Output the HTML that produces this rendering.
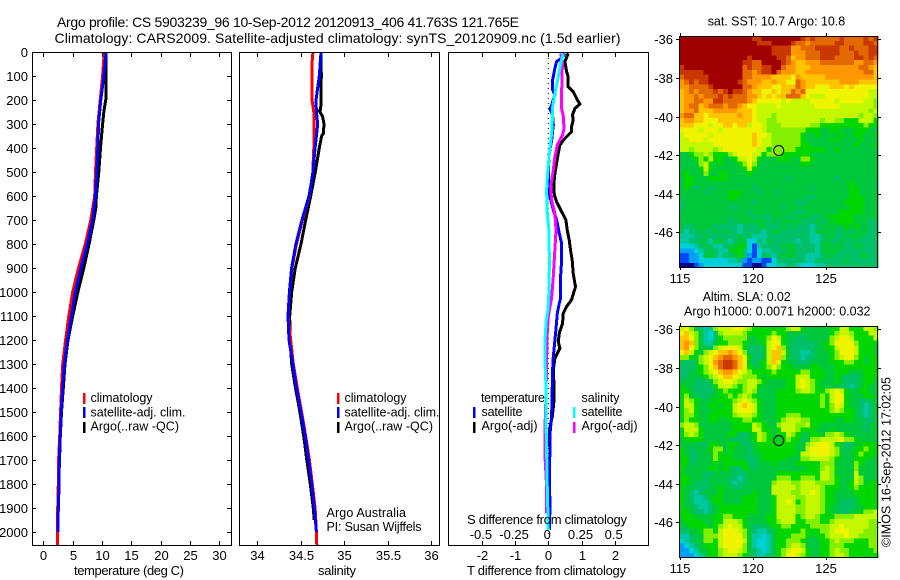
<!DOCTYPE html>
<html>
<head>
<meta charset="utf-8">
<style>
html,body{margin:0;padding:0;background:#fff;}
svg{display:block;}
text{font-family:"Liberation Sans",sans-serif;font-size:13px;fill:#000;}
</style>
</head>
<body>
<svg id="fig" xmlns="http://www.w3.org/2000/svg" width="900" height="580" viewBox="0 0 900 580">
<text x="57" y="27" style="font-size:14px" textLength="462">Argo profile: CS 5903239_96 10-Sep-2012 20120913_406 41.763S 121.765E</text>
<text x="54.5" y="43" style="font-size:14px" textLength="566">Climatology: CARS2009. Satellite-adjusted climatology: synTS_20120909.nc (1.5d earlier)</text>
<g id="marks"></g>
<rect x="32.5" y="52.5" width="199" height="493" fill="none" stroke="#000"/>
<rect x="239.5" y="52.5" width="200" height="493" fill="none" stroke="#000"/>
<rect x="448.5" y="52.5" width="200" height="493" fill="none" stroke="#000"/>
<rect x="679.5" y="36.5" width="198" height="231" fill="none" stroke="#000"/>
<rect x="679.5" y="326.5" width="198" height="231" fill="none" stroke="#000"/>
<g id="ticks"></g>

<text x="74" y="575" textLength="110">temperature (deg C)</text>
<text x="318" y="575" textLength="38">salinity</text>
<text x="467" y="575" textLength="159">T difference from climatology</text>
<text x="467" y="524" textLength="160">S difference from climatology</text>

<g>
<rect x="83" y="393" width="2.5" height="11" fill="#f00"/>
<rect x="83" y="407" width="2.5" height="11" fill="#00f"/>
<rect x="83" y="422" width="2.5" height="11" fill="#000"/>
<text x="90.5" y="402" style="font-size:12.5px" textLength="62">climatology</text>
<text x="90.5" y="416.5" style="font-size:12.5px" textLength="95">satellite-adj. clim.</text>
<text x="90.5" y="430.5" style="font-size:12.5px" textLength="88.5">Argo(..raw -QC)</text>
</g>
<g>
<rect x="337" y="393" width="2.5" height="11" fill="#f00"/>
<rect x="337" y="407" width="2.5" height="11" fill="#00f"/>
<rect x="337" y="422" width="2.5" height="11" fill="#000"/>
<text x="344.5" y="402" style="font-size:12.5px" textLength="62">climatology</text>
<text x="344.5" y="416.5" style="font-size:12.5px" textLength="95">satellite-adj. clim.</text>
<text x="344.5" y="430.5" style="font-size:12.5px" textLength="88.5">Argo(..raw -QC)</text>
</g>
<text x="326.5" y="517" style="font-size:12.5px" textLength="79.5">Argo Australia</text>
<text x="326.5" y="531" style="font-size:12.5px" textLength="95">PI: Susan Wijffels</text>

<g>
<rect x="473" y="407" width="2.5" height="11" fill="#00f"/>
<rect x="473" y="422" width="2.5" height="11" fill="#000"/>
<rect x="573" y="407" width="2.5" height="11" fill="#0ff"/>
<rect x="573" y="422" width="2.5" height="11" fill="#f0f"/>
<text x="481" y="402" style="font-size:12.5px" textLength="64">temperature</text>
<text x="481.5" y="416" style="font-size:12.5px" textLength="41">satellite</text>
<text x="481.5" y="430" style="font-size:12.5px" textLength="56">Argo(-adj)</text>
<text x="581.5" y="402" style="font-size:12.5px" textLength="38">salinity</text>
<text x="581.5" y="416" style="font-size:12.5px" textLength="41">satellite</text>
<text x="581.5" y="430" style="font-size:12.5px" textLength="56">Argo(-adj)</text>
</g>

<text x="707.7" y="25.5" style="font-size:12.5px" textLength="137.5">sat. SST: 10.7 Argo: 10.8</text>
<text x="702.7" y="301" style="font-size:12.5px" textLength="88">Altim. SLA: 0.02</text>
<text x="684" y="315.5" style="font-size:12.5px" textLength="186.5">Argo h1000: 0.0071 h2000: 0.032</text>
<text transform="translate(890.5,547) rotate(-90)" style="font-size:12.5px" textLength="170">©IMOS 16-Sep-2012 17:02:05</text>
</svg>
<script>
// ---------- depth axis ----------
const depthTicks = [0,100,200,300,400,500,600,700,800,900,1000,1100,1200,1300,1400,1500,1600,1700,1800,1900,2000];

// ---------- temperature panel ----------
const tempTicks = [0,5,10,15,20,25,30];
const tempClimDepth = [0,100,200,300,400,500,600,700,800,900,1000,1100,1200,1300,1400,1500,1600,1700,1800,1900,2000,2056];
const tempClim = [10.4,10.1,9.7,9.3,9.1,8.9,8.75,8.1,7.15,6.0,5.0,4.35,3.8,3.3,3.1,2.95,2.8,2.6,2.55,2.45,2.42,2.4];
const tempAdjDepth = [0,100,200,300,400,500,600,700,800,900,1000,1100,1200,1300,1400,1500,1600,1700,1800,1900,2000];
const tempAdj = [10.7,10.3,9.8,9.4,9.3,9.1,8.9,8.4,7.5,6.4,5.45,4.8,4.1,3.6,3.3,3.07,2.9,2.73,2.7,2.55,2.5];
const tempArgoDepth = [0,100,190,220,250,300,400,500,600,650,700,800,900,1000,1100,1200,1300,1400,1500,1600,1750];
const tempArgo = [10.7,10.7,10.7,10.5,10.3,10.1,9.75,9.45,9.05,8.95,8.6,7.8,6.9,5.9,5.0,4.2,3.7,3.4,3.1,2.9,2.7];

// ---------- salinity panel ----------
const salTicks = [34,34.5,35,35.5,36];
const salClimDepth = [0,50,200,250,400,450,500,550,600,700,800,900,1000,1100,1200,1300,1400,1500,1600,1700,1800,1900,2000,2056];
const salClim = [34.64,34.63,34.63,34.65,34.65,34.645,34.64,34.62,34.60,34.52,34.45,34.40,34.37,34.355,34.385,34.415,34.46,34.51,34.557,34.60,34.633,34.665,34.68,34.685];
const salAdjDepth = [0,100,200,250,300,350,400,500,550,600,700,800,900,1000,1100,1200,1300,1400,1500,1600,1700,1800,1900,2000];
const salAdj = [34.733,34.714,34.676,34.68,34.695,34.68,34.665,34.64,34.62,34.595,34.515,34.445,34.395,34.37,34.353,34.365,34.41,34.45,34.503,34.55,34.59,34.626,34.656,34.68];
const salArgoDepth = [0,100,240,245,270,300,340,350,400,500,600,700,800,900,1000,1100,1200,1300,1400,1500,1600,1700,1800,1900,1950];
const salArgo = [34.733,34.737,34.73,34.714,34.753,34.768,34.76,34.74,34.714,34.668,34.615,34.557,34.503,34.437,34.396,34.373,34.377,34.396,34.44,34.49,34.534,34.57,34.61,34.645,34.655];

// ---------- difference panel ----------
const tDiffTicks = [-2,-1,0,1,2];
const sDiffTicks = [-0.5,-0.25,0,0.25,0.5];
const sDiffLabels = ["-0.5","-0.25","0","0.25","0.5"];
const diffTArgoDepth = [6,40,82,103,144,165,193,217,235,262,283,311,332,360,387,422,464,506,547,596,624,665,700,742,783,825,867,922,978,1033,1061,1089,1130,1172,1207,1234,1276,1325,1380,1457,1519,1561,1644];
const diffTArgo = [0.60,0.50,0.55,0.60,0.60,0.75,0.85,0.95,0.80,0.73,0.75,0.70,0.70,0.50,0.35,0.30,0.25,0.20,0.17,0.18,0.25,0.40,0.53,0.57,0.63,0.67,0.72,0.75,0.82,0.70,0.55,0.45,0.43,0.33,0.30,0.35,0.20,0.15,0.17,0.17,0.12,0.05,0.0];
const diffTSatDepth = [6,26,40,68,117,158,179,221,238,262,304,368,422,492,561,603,658,700,756,797,867,936,1026,1047,1089,1158,1214,1269,1325,1450,1519,1589,1644,1769,1894,1992];
const diffTSat = [0.50,0.40,0.25,0.20,0.13,0.13,0.20,0.10,0.05,0.13,0.15,0.10,0.03,0.0,0.0,0.05,0.15,0.25,0.33,0.40,0.40,0.37,0.37,0.33,0.27,0.23,0.19,0.15,0.13,0.11,0.10,0.05,0.05,0.03,0.05,0.03];
const diffSSatDepth = [6,47,103,151,172,228,325,422,506,575,672,742,881,1026,1075,1117,1186,1297,1380,1519,1658,1797,1992];
const diffSSat = [0.113,0.093,0.075,0.058,0.05,0.033,0.028,0.008,-0.005,-0.013,-0.008,0.005,0.008,0.003,-0.003,-0.015,-0.023,-0.025,-0.018,-0.018,-0.013,-0.008,0.0];
const diffSArgoDepth = [6,47,89,186,235,269,318,346,387,436,492,561,617,672,742,936,1026,1061,1103,1172,1297,1450,1561,1700,1811,1922];
const diffSArgo = [0.093,0.108,0.103,0.10,0.10,0.113,0.118,0.108,0.068,0.05,0.038,0.018,0.025,0.05,0.058,0.038,0.025,0.013,0.0,-0.008,-0.013,-0.018,-0.025,-0.023,-0.013,-0.013];

// ---------- maps ----------
const lonTicks = [115,120,125];
const latTicks = [-36,-38,-40,-42,-44,-46];
const floatLon = 121.765;
const floatLat = -41.763;
const colorKeys = "0123456789abcdeh";
const colorLevels = ["#00008c","#0048f8","#00a0f8","#00d0d8","#00c8a0","#00c068","#00d600","#84f000","#c4f800","#f0f400","#ffc400","#ff9800","#e46800","#c83800","#a00000","#00c83c"];
const sstRows = [
"eeeee eeeee eeeee ddeee eeeee dcdcc cccdc cccdc d",
"eeeee eeeee eeeee eddde eeedc cbccc ccddc cccdd c",
"eeeee eeeee eeeee eeeed dddbb cccdd dddcc dcccd d",
"eeeee eeeee eeeee eeeed dddbb bcccd dddcc cdccd d",
"eeeee eeeee eeeed eeeee ddcab bcccd ddccc cddcd c",
"eeeee eeeee eeedd cceee edcba abbbc ccccc cbbcc b",
"deeee eeeee eeecd ccdde ecbba aabbb bbbbb bbccb a",
"ddddd eeeee eeecc bcdde cbbba abbbb bbbbb bbbcc a",
"cdddd deeee eeecc bbbba aaa9b aaaaa bbbbb bbbbb a",
"bcdcd deeee eedcb bbaab aa99c baaaa aaabb bbaaa a",
"bbccc cdeee eeecc baaa9 9aaac baa99 9aaa9 a9999 9",
"abcbc ccdcd eddcb aa99a 9aacb c9999 99999 99998 8",
"abbcb cccdc dcccb ba9a9 aaccc a9888 99999 99998 8",
"abbcc bbddc ccccb a9999 98988 88999 99899 99988 7",
"abcca bcccb ccba9 98888 98888 88899 99988 88888 7",
"abbca aabbb bbaaa 98888 88888 88888 88888 88887 8",
"bccaa 9aaaa aabaa 98887 88888 88888 88888 88788 7",
"abbaa 999aa aaaaa 98877 88888 88887 88776 66888 6",
"aaa99 98 99a a9aa8 99877 78888 88776 66666 66676 6",
"99998 99989 99999 99877 77777 7666h h66hh h666h h",
"89999 98999 99999 a9987 77777 6hh6h hhh6h h66hh 6",
"88999 89999 99999 a9887 77777 6hhhh h66hh hh6hh h",
"88888 88999 99999 a9887 77777 66hhh hhhhh h6hhh 6",
"88788 88789 99999 98867 77776 66666 hh6hh hhhhh h",
"h h 6 7 7 8 7 6 6 6 7 8 9 9 9 8 8 6 7 7 7 6 6 6 6 6 6 h h h h h h h h h h h h h h",
"h h h 6 7 6 8 6 6 h h 6 8 8 9 8 6 h h h 6 6 6 h h 7 7 6 h h h h h h h h h h h h h",
"h h h h 7 8 6 h 6 h h h 6 7 9 7 h h h h h h h h h 6 6 h h h h h h h h h h h h h h",
"h h h h 6 8 6 h h h h h h 6 8 6 h h h h h h h h h h h h h h h h h h h h h h h h h",
"h 6 h h h 7 h h 6 6 h h h h 6 h h h h h h h h h h h h h h h h h h h h h h h h h h",
"h 6 6 h h h 6 6 6 6 h h h h h h h h h h h h 5 h h h h h h h h h 5 h h h h h h h h",
"h 6 6 h h h h h h h h h h h h h h h h h h h h h h h h h h h h h h h h 6 h h h h 5",
"h 6 h 5 h h 5 h h h h h h h h 5 h h h h h h h h h h h 5 h h h h h h h 6 6 h h h h",
"h h h h h 5 h h h h 6 6 6 h h h 5 h h h 5 h h h h h h h h h h h h h h 6 6 h h h h",
"h h h h h h h h h h 6 6 h h h h h h h h h h h h h h 5 5 h h h h h h h 6 6 6 h h h",
"5 h h h h h h h h h h h h h h 5 h h h h h h h h 5 5 h h h h h h h h 6 6 6 6 h h h",
"5 h h h h h h h h h 5 5 h h h h h h h h h 5 h h h h h h h h h h h h h 6 6 6 h h h",
"h h h h h h h h h h h h h h 5 h h h h h h h h h 5 5 h h h h h h h 6 6 6 6 6 h h h",
"h h h h h h h h h h 5 h h h h 5 h 5 5 h h h 5 5 h h h 5 5 h h 6 6 6 6 6 h h h h h",
"h h h h h h h h h h 5 5 h h h h h h 5 h 5 h h h h 5 5 5 h 5 h h 6 6 6 6 h h h 5 5",
"h 5 5 h h h h 5 5 5 5 5 4 5 5 5 h h 5 5 5 h 5 h 5 5 5 4 5 h h h h h 6 h 6 h h 5 5",
"5 4 5 5 h 5 5 h 5 h 5 5 4 5 5 5 5 4 5 h h 5 5 5 5 5 5 4 h h h h 5 5 h 5 h h h 5 5",
"4 4 4 5 5 h 5 5 5 5 5 5 h 5 5 4 4 4 5 5 5 5 5 5 5 5 5 4 4 5 h h 5 5 h h h h 5 5 5",
"4 4 5 5 h 5 4 h h 5 4 5 h h 3 3 5 4 h 5 5 5 5 5 4 5 5 4 4 5 h 5 5 h 5 5 h 5 5 5 5",
"3 3 3 4 5 h 5 4 4 5 h h 6 h 3 1 4 5 5 5 5 h h h 5 5 5 5 4 h h h h h 5 5 h h 5 5 5",
"2 2 2 3 4 5 h 5 4 4 h 6 6 5 3 1 3 4 4 5 5 5 h h 5 5 5 5 4 h h h h 5 5 5 5 5 5 5 5",
"1 1 2 2 3 h h 5 4 5 5 h 6 5 2 1 3 5 5 4 5 h h h 5 5 4 4 4 5 h h 5 5 5 5 5 h h 5 5",
"1 1 2 2 3 3 3 3 3 3 4 4 5 2 1 2 2 1 1 3 5 5 5 5 5 5 4 4 5 5 5 5 5 5 h 5 5 5 5 5 5",
"0 0 0 1 2 3 3 3 3 3 3 3 3 1 1 0 0 1 3 3 4 4 5 5 4 3 3 3 4 4 5 5 5 5 5 5 5 5 5 5 5"
];
const slaRows = [
"8 9 7 h 5 4 4 7 8 8 8 9 9 8 7 6 6 6 6 6 6 6 7 8 8 6 h h h h h 6 6 8 8 6 6 6 8 8 7",
"9 a 8 7 h 4 3 5 7 8 8 8 8 7 6 6 6 6 6 7 6 6 h h h h h h h h h 6 7 8 8 7 6 6 6 8 8",
"a a 9 7 h 4 3 5 6 7 7 7 7 7 h h 6 6 7 9 8 6 h h 5 5 h h h h h 7 8 9 9 8 6 6 6 6 8",
"a b a 7 h 4 4 h 6 6 7 7 7 6 h h h 6 8 9 9 6 h 5 5 5 5 5 h h 6 7 9 9 9 9 7 6 6 6 6",
"a b 9 7 h h 5 7 8 9 9 9 8 6 5 5 5 h 8 9 a 7 h 5 5 5 5 5 h h 6 6 8 9 9 9 8 6 6 6 h",
"9 a 8 6 h 7 8 9 a a b a 9 7 5 5 5 h 8 a a 8 h 5 5 4 4 5 h h h 6 7 9 9 9 8 6 6 6 h",
"7 7 6 h 7 8 9 a b c c b a 9 6 5 5 h 8 a a 7 h 5 5 4 5 5 h h h 6 7 8 9 9 7 6 h 6 6",
"h 5 5 h 7 8 9 b c d d c a 9 h 5 h 6 8 a 9 6 h h 5 5 5 h h h h 6 6 6 7 7 6 6 h 6 6",
"5 5 5 h 6 7 9 a c d d c a 9 6 h h 6 7 9 7 6 6 h h h h 6 6 h h h 6 6 6 6 6 6 6 6 6",
"5 5 h h 6 7 8 9 a b b a 9 8 7 6 6 6 6 7 6 6 6 6 6 7 7 6 6 6 h h 6 6 6 h h h 6 6 6",
"5 5 h h h 6 7 8 9 a a 9 8 7 7 7 6 h 6 6 6 6 6 6 8 8 8 6 6 6 h h 6 h 5 5 5 h 6 6 6",
"h h h 5 5 5 h 7 8 9 9 8 7 7 8 8 7 6 h h h h 6 6 8 9 8 7 6 h h h 6 h 5 5 5 h 6 6 h",
"6 h h 5 5 5 5 6 8 8 8 7 6 7 8 8 6 h h h h h 6 6 8 9 8 7 6 h h h h 5 5 4 5 h 6 h h",
"6 6 h 5 5 5 5 h 6 7 6 6 6 7 8 7 h h h h 6 6 6 6 7 8 8 7 6 6 7 8 9 8 6 h h 6 6 h h",
"6 7 h h 5 5 h h 6 6 7 6 7 8 7 6 h h h h 6 6 6 6 6 6 6 6 6 7 6 8 9 9 6 h h h 6 6 h",
"6 8 7 6 h h h 6 6 6 6 7 8 9 8 7 6 h h h 6 6 6 6 6 6 6 6 6 7 6 8 9 9 6 h h 5 5 h h",
"6 8 8 6 h h 6 6 h 6 6 8 9 a 9 8 6 h h h 6 6 6 6 6 6 6 6 6 7 6 7 9 8 6 h h 5 4 5 h",
"6 7 8 6 h h h 6 6 6 6 8 9 9 9 8 6 h h h 6 6 6 6 6 6 6 6 6 6 6 7 8 7 6 6 h 5 4 5 h",
"6 7 7 6 h h 6 6 6 6 6 7 8 8 8 7 6 h h h 6 6 7 7 7 6 6 6 6 6 6 6 6 6 6 6 h 5 4 5 h",
"6 7 6 6 h h 6 6 h h 6 6 6 7 7 6 6 h h h 6 7 8 8 8 7 7 6 6 6 6 6 h h 6 6 h h 5 5 h",
"7 8 8 7 h h h h h h h 6 6 6 6 8 7 6 h h 7 8 8 8 7 7 8 6 6 h h h h h h h h h 5 h h",
"6 8 8 8 6 h h h h h h 6 6 6 6 8 8 6 6 h 6 8 8 8 7 6 6 6 h h h 6 h h h h h h 5 h h",
"6 7 8 7 6 h h h h h 6 6 5 5 h 6 8 7 6 h 6 6 8 7 6 h h 6 6 h 7 7 8 7 6 h h h h h h",
"h 6 6 6 6 h h h h h h 5 5 5 h 6 8 7 6 6 h 6 7 6 6 5 h 7 7 8 8 8 8 9 7 7 6 h h h h",
"h h h h 5 5 6 6 h h 6 6 h 5 5 h 6 6 6 6 6 6 6 6 h h 7 8 9 9 9 8 6 h 5 5 h 6 6 6 6",
"6 h 5 h h h 6 7 7 h 6 h h h 5 h 6 6 6 6 6 6 6 6 h h 8 9 9 9 9 8 7 h 5 h 6 6 7 6 6",
"6 h 5 5 h h h 7 6 h 6 h h h 5 h h 6 6 6 6 6 6 6 h 8 8 9 9 9 9 8 7 h h h 6 7 6 6 6",
"6 6 5 5 h h h 7 6 6 6 h h h 5 5 h 6 6 6 6 6 h h h 7 7 8 8 8 8 7 6 h h h 6 6 6 h h",
"6 6 5 h h h h 6 h 6 6 6 6 6 5 5 h h h 6 h h h h 6 6 6 6 6 7 7 7 h h h h 7 6 h h h",
"6 h h h h h 6 6 h 6 h 5 5 6 h 5 h h h h h h h h h h 6 6 6 7 8 7 6 h h h 7 h h h h",
"6 h h h h 5 5 h h h h 5 5 5 h h h h h h 6 6 6 6 6 6 6 6 6 8 8 7 h h h h 8 h h h h",
"6 6 h h h 5 h h h h 5 5 4 5 h h h h h h 7 7 7 6 6 7 7 7 6 8 8 7 6 h h h 8 7 h h h",
"6 6 h h 5 5 h h h h 5 4 5 5 h h h h h 7 8 8 8 7 7 8 8 8 7 7 7 7 6 h h 6 8 7 h 6 6",
"6 h h 5 5 5 h h 6 h h 5 5 h h h h h h 8 8 8 8 8 7 8 8 8 8 7 6 6 6 h h 6 7 6 6 6 6",
"6 h 5 4 5 h h h 6 h h h h h h 6 h h h 8 8 8 8 7 7 8 8 9 8 7 6 6 h h h h 6 6 6 6 6",
"6 h 5 4 4 5 h 6 6 h h h h 6 6 6 h h h 6 8 8 8 8 7 7 8 8 8 7 6 6 h h h h h 6 6 6 6",
"6 h 5 4 4 4 h 6 6 h h h h 6 6 6 h h h 6 8 8 9 8 6 7 8 8 8 7 6 6 h 5 5 5 h 6 6 6 6",
"6 h h 5 4 4 5 h 6 6 6 6 6 6 6 6 h h h 6 8 8 8 8 7 7 8 8 8 7 6 h h 5 5 5 h h 6 6 6",
"6 6 h 5 5 4 5 h 6 6 6 6 6 6 6 6 h h h 6 8 8 8 8 7 7 8 8 8 7 6 h h 5 5 h h 6 7 7 8",
"6 6 6 h h h h 6 6 7 7 6 6 6 h h h h 6 6 8 8 8 8 6 7 8 8 7 6 6 6 7 7 7 7 8 8 8 8 8",
"h 6 6 6 6 h h 6 6 8 8 8 7 6 h h h h 6 6 7 8 8 8 6 6 7 7 7 6 6 7 8 8 8 8 8 8 8 7 7",
"h h 6 6 6 6 h 6 7 8 9 8 8 6 h 5 5 5 h 6 6 7 7 6 6 6 6 7 7 7 7 8 8 9 8 8 8 8 8 7 7",
"5 5 h h 6 7 7 6 8 9 9 9 8 7 h 5 4 4 5 h 6 6 6 6 6 7 6 6 6 7 7 8 9 9 9 8 8 8 7 7 7",
"4 4 5 h h 7 7 7 8 9 9 9 9 7 h 4 4 3 4 h 6 6 6 7 7 7 6 h 6 6 7 8 8 8 9 8 8 7 7 7 7",
"3 4 5 h h 7 7 6 8 9 9 9 9 8 h 4 3 3 4 h 6 6 7 7 7 6 h h h 6 6 7 8 7 7 7 6 6 6 7 7",
"2 3 4 5 h 6 6 6 8 9 9 9 9 7 h 4 3 3 4 h 6 6 7 8 8 7 h h h 6 6 7 7 7 6 6 6 6 6 7 7",
"2 2 3 4 h h 6 6 7 8 9 9 8 7 h 5 4 3 4 h 6 7 8 9 9 8 6 h h 6 6 7 8 7 7 6 6 6 6 6 7",
"2 2 2 3 4 h 6 6 7 8 8 8 7 6 h 5 4 4 5 h 6 7 9 9 8 7 6 h h 6 6 7 8 8 7 6 6 6 6 6 6"
];

// ---------- scales ----------
const depthY = d => 52 + d * 0.24;
const tempX = v => 43.3 + v * 5.87;
const salX = v => 257.3 + (v - 34) * 86.85;
const tDiffX = v => 548.3 + v * 33.2;
const sDiffX = v => 548.3 + v * 132.8;
const lonX = v => 680.3 + (v - 115) * 14.55;
const latY0 = v => 39.3 + (-36 - v) * 19.3;
const latY1 = v => 329.3 + (-36 - v) * 19.3;

const NS = "http://www.w3.org/2000/svg";
const marks = document.getElementById("marks");
const ticks = document.getElementById("ticks");

function drawLine(parent, name, depths, vals, xf, color, width) {
  const pts = depths.map((d, i) => xf(vals[i]).toFixed(1) + "," + depthY(d).toFixed(1)).join(" ");
  const el = document.createElementNS(NS, "polyline");
  el.setAttribute("points", pts);
  el.setAttribute("fill", "none");
  el.setAttribute("stroke", color);
  el.setAttribute("stroke-width", width);
  el.setAttribute("shape-rendering", "crispEdges");
  
  
  parent.appendChild(el);
}
function tickLine(name, x1, y1, x2, y2) {
  const el = document.createElementNS(NS, "line");
  el.setAttribute("x1", x1); el.setAttribute("y1", y1);
  el.setAttribute("x2", x2); el.setAttribute("y2", y2);
  el.setAttribute("stroke", "#000");
  el.setAttribute("shape-rendering", "crispEdges");
  
  
  ticks.appendChild(el);
}
function label(name, str, x, y, anchor) {
  const el = document.createElementNS(NS, "text");
  el.setAttribute("x", x); el.setAttribute("y", y);
  el.setAttribute("text-anchor", anchor);
  el.textContent = str;
  
  
  ticks.appendChild(el);
}
const snap = v => Math.round(v) + 0.5;

// depth ticks on the first panel
depthTicks.forEach(d => {
  const y = snap(depthY(d));
  tickLine("depth-tick", 33, y, 36, y);
  tickLine("depth-tick-right", 227, y, 232, y);
  label("depth-tick-label", String(d), 28, y + 4.5, "end");
});
function xTicks(values, labels, xf, prefix, baseline) {
  values.forEach((v, i) => {
    const x = snap(xf(v));
    tickLine(prefix + "-tick-top", x, 53, x, 57);
    tickLine(prefix + "-tick-bottom", x, 541, x, 545);
    label(prefix + "-tick-label", labels[i], x, baseline, "middle");
  });
}
xTicks(tempTicks, tempTicks.map(String), tempX, "temperature", 560);
xTicks(salTicks, salTicks.map(String), salX, "salinity", 560);
xTicks(tDiffTicks, tDiffTicks.map(String), tDiffX, "t-difference", 560);
sDiffTicks.forEach((v, i) => {
  label("s-difference-tick-label", sDiffLabels[i], sDiffX(v) - 1, 539, "middle");
});

// profile lines
drawLine(marks, "temperature-argo-line", tempArgoDepth, tempArgo, tempX, "#000", 3);
drawLine(marks, "temperature-climatology-line", tempClimDepth, tempClim, tempX, "#f00", 3);
drawLine(marks, "temperature-satellite-line", tempAdjDepth, tempAdj, tempX, "#00f", 3);
drawLine(marks, "salinity-argo-line", salArgoDepth, salArgo, salX, "#000", 3);
drawLine(marks, "salinity-climatology-line", salClimDepth, salClim, salX, "#f00", 3);
drawLine(marks, "salinity-satellite-line", salAdjDepth, salAdj, salX, "#00f", 3);

const zero = document.createElementNS(NS, "line");
zero.setAttribute("x1", tDiffX(0)); zero.setAttribute("x2", tDiffX(0));
zero.setAttribute("y1", 53); zero.setAttribute("y2", 545);
zero.setAttribute("stroke", "#000");
zero.setAttribute("stroke-dasharray", "1 4");


marks.appendChild(zero);
drawLine(marks, "t-difference-argo-line", diffTArgoDepth, diffTArgo, tDiffX, "#000", 3);
drawLine(marks, "t-difference-satellite-line", diffTSatDepth, diffTSat, tDiffX, "#00f", 3);
drawLine(marks, "s-difference-argo-line", diffSArgoDepth, diffSArgo, sDiffX, "#f0f", 3);
drawLine(marks, "s-difference-satellite-line", diffSSatDepth, diffSSat, sDiffX, "#0ff", 3);

// maps
function drawMap(rows, latY, top, bottom, prefix, circleFill) {
  const startLon = 114.93, startLat = -35.83;
  rows.forEach((row, r) => {
    const cells = row.replace(/ /g, "");
    for (let c = 0; c < 41; c++) {
      const ch = cells[Math.min(c, cells.length - 1)];
      const level = colorKeys.indexOf(ch);
      const el = document.createElementNS(NS, "rect");
      const x0 = lonX(startLon + c / 3), x1 = lonX(startLon + (c + 1) / 3);
      const y0 = latY(startLat - r / 4), y1 = latY(startLat - (r + 1) / 4);
      el.setAttribute("x", x0.toFixed(2));
      el.setAttribute("y", y0.toFixed(2));
      el.setAttribute("width", (x1 - x0 + 0.3).toFixed(2));
      el.setAttribute("height", (y1 - y0 + 0.3).toFixed(2));
      el.setAttribute("fill", colorLevels[level]);
      el.setAttribute("shape-rendering", "crispEdges");
      
      
      marks.appendChild(el);
    }
  });
  lonTicks.forEach(v => {
    const x = snap(lonX(v));
    tickLine(prefix + "-lon-tick-top", x, top - 3, x, top);
    tickLine(prefix + "-lon-tick-bottom", x, bottom, x, bottom + 3);
    label(prefix + "-lon-tick-label", String(v), x - 0.5, bottom + 16, "middle");
  });
  latTicks.forEach(v => {
    const y = snap(latY(v));
    tickLine(prefix + "-lat-tick-left", 676, y, 679, y);
    tickLine(prefix + "-lat-tick-right", 878, y, 881, y);
    label(prefix + "-lat-tick-label", String(v), 673, y + 4.5, "end");
  });
  const dot = document.createElementNS(NS, "circle");
  dot.setAttribute("cx", lonX(floatLon));
  dot.setAttribute("cy", latY(floatLat));
  dot.setAttribute("r", 5);
  dot.setAttribute("fill", circleFill);
  dot.setAttribute("stroke", "#000");
  
  
  ticks.appendChild(dot);
}
drawMap(sstRows, latY0, 36, 267, "sst-map", "#84f000");
drawMap(slaRows, latY1, 326, 557, "sla-map", "none");
</script>
</body>
</html>
